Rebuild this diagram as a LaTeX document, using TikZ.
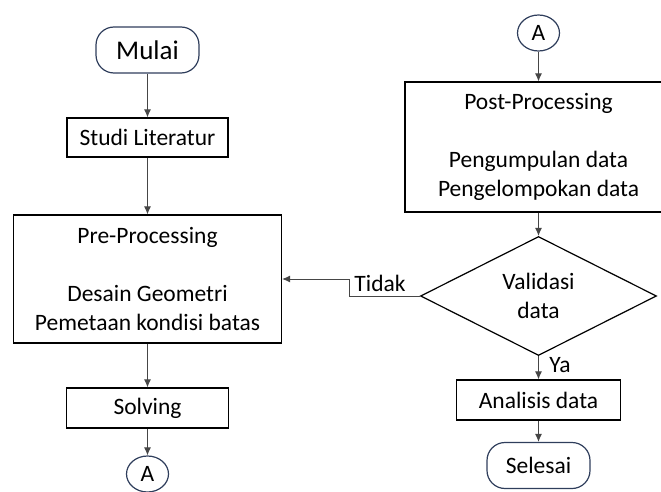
\documentclass[tikz,border=0pt]{standalone}
\usepackage{fontspec}
\setmainfont{Carlito}
\usetikzlibrary{shapes.geometric,arrows.meta}
\definecolor{termblue}{RGB}{47,62,92}
\definecolor{linegray}{RGB}{70,70,70}
\begin{document}
\begin{tikzpicture}[x=1pt,y=-1pt]
    \clip (0,0) rectangle (661,492);
    \tikzstyle{every node}=[font=\fontsize{23.5}{29}\selectfont, text=black, inner sep=0pt]
    \tikzstyle{proc}=[rectangle, draw=black, line width=1.2pt, align=center]
    \tikzstyle{term}=[rectangle, draw=termblue, line width=1.2pt, rounded corners=18pt, minimum width=103pt, minimum height=46pt]
    \tikzstyle{conn}=[ellipse, draw=termblue, line width=1.2pt, minimum width=42pt, minimum height=36pt]
    \tikzstyle{dec}=[diamond, draw=black, line width=1.2pt, align=center, aspect=2, minimum width=236pt, minimum height=119pt]
    \tikzstyle{edge}=[linegray, line width=0.9pt, -{Latex[length=8pt,width=7pt]}]

    % left column
    \node[term, font=\fontsize{27}{32}\selectfont] (mulai) at (147.5,50) {Mulai};
    \node[proc, minimum width=161pt, minimum height=39pt] (studi) at (147.5,137.5) {Studi Literatur};
    \node[proc, minimum width=268pt, minimum height=128pt] (pre) at (147.5,279) {Pre-Processing\\[29pt]Desain Geometri\\Pemetaan kondisi batas};
    \node[proc, minimum width=162pt, minimum height=40pt] (solving) at (147.5,408) {Solving};
    \node[conn] (a1) at (147.5,474) {A};

    % right column
    \node[conn] (a2) at (538.5,33) {A};
    \node[proc, minimum width=267pt, minimum height=130pt] (post) at (538.5,147) {Post-Processing\\[29pt]Pengumpulan data\\Pengelompokan data};
    \node[dec] (valid) at (538.5,296) {Validasi\\data};
    \node[proc, minimum width=164pt, minimum height=40pt] (analisis) at (538.5,400) {Analisis data};
    \node[term] (selesai) at (538.5,465.5) {Selesai};

    \node (tidak) at (380,283) {Tidak};
    \node (ya) at (560,365) {Ya};

    \draw[edge] (mulai) -- (studi);
    \draw[edge] (studi) -- (pre);
    \draw[edge] (pre) -- (solving);
    \draw[edge] (solving) -- (a1);
    \draw[edge] (a2) -- (post);
    \draw[edge] (post) -- (valid);
    \draw[edge] (valid) -- (analisis);
    \draw[edge] (analisis) -- (selesai);
    \draw[edge] (valid.west) -- ++(-70,0) |- (pre.east);
\end{tikzpicture}
\end{document}
